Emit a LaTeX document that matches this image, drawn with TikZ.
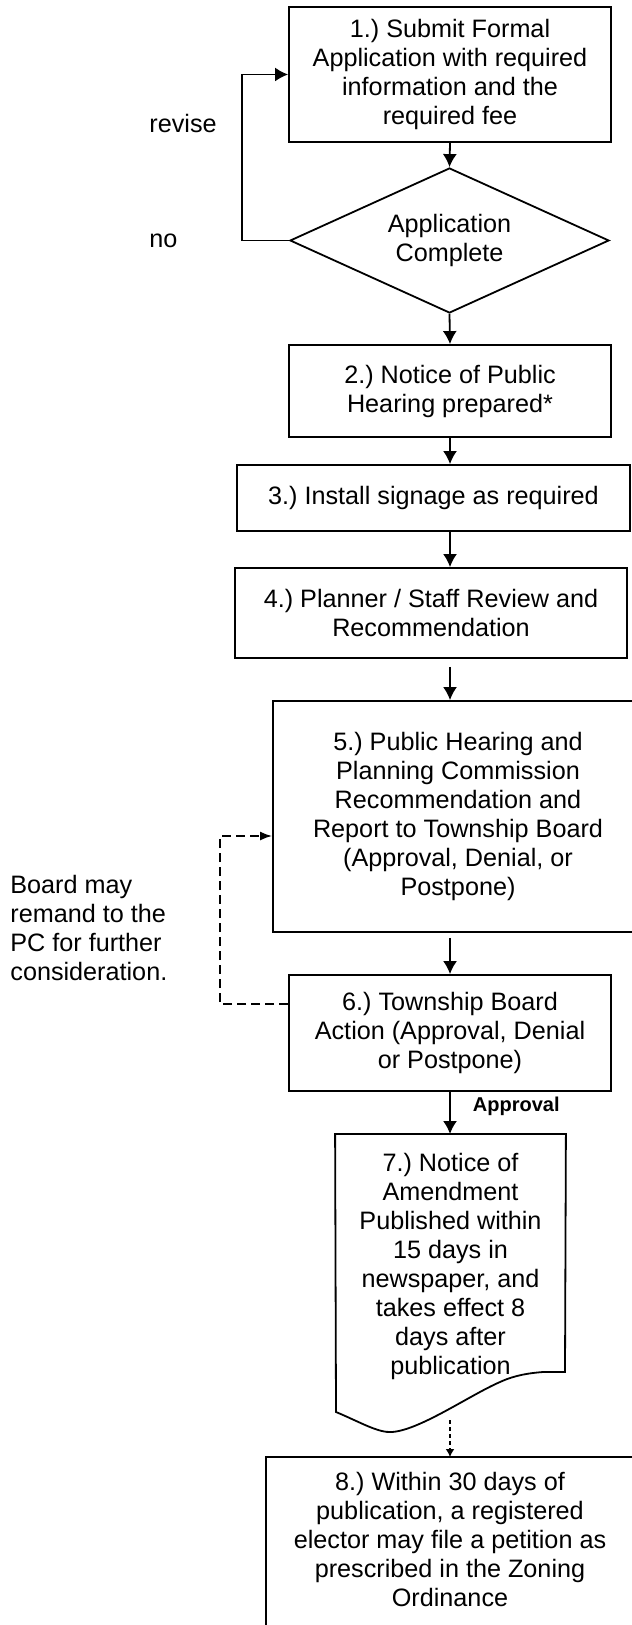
\documentclass[tikz,border=0pt]{standalone}
\usepackage{fontspec}
\setmainfont{Liberation Sans}
\usetikzlibrary{arrows.meta,shapes.geometric}
\newcommand{\boxfont}{\fontsize{12.6}{14.5}\selectfont}
\frenchspacing
\tikzset{
	box/.style={draw, line width=0.9pt, align=center, inner sep=0pt, font=\boxfont},
	decision/.style={box, diamond, aspect=2.2},
	note/.style={inner sep=0pt, font=\boxfont},
	flow/.style={line width=0.9pt, ->},
	remand/.style={line width=0.9pt, dash pattern=on 4.5pt off 2.5pt, -{Latex[length=6pt,width=4.5pt]}},
	publish/.style={line width=0.9pt, dash pattern=on 2pt off 1.5pt, -{Latex[length=4pt,width=4.5pt]}}
}

\begin{document}
\begin{tikzpicture}[x=0.5pt, y=-0.5pt, >={Latex[length=6.5pt,width=7pt]}]

	\useasboundingbox (0,0) rectangle (631,1625);

	\node [box, minimum width=161pt, minimum height=67.5pt] (submit) at (450,74.5) {1.) Submit Formal\\Application with required\\information and the\\required fee};
	\node [decision, minimum width=159.5pt, minimum height=72.5pt] (complete) at (449.5,240.5) {Application\\Complete};
	\node [box, minimum width=161pt, minimum height=46pt] (hearing) at (450,391) {2.) Notice of Public\\Hearing prepared*};
	\node [box, minimum width=196.5pt, minimum height=33pt] (signage) at (433.5,498) {3.) Install signage as required};
	\node [box, minimum width=196pt, minimum height=45pt] (review) at (431,613) {4.) Planner / Staff Review and\\Recommendation};
	\node [box, minimum width=185pt, minimum height=115.5pt] (pc) at (458,816.5) {5.) Public Hearing and\\Planning Commission\\Recommendation and\\Report to Township Board\\(Approval, Denial, or\\Postpone)};
	\node [box, minimum width=161pt, minimum height=58pt] (board) at (450,1033) {6.) Township Board\\Action (Approval, Denial\\or Postpone)};
	\node [box, draw=none, anchor=north, minimum width=114.5pt, inner ysep=9.3pt] (amend) at (450.5,1134) {7.) Notice of\\Amendment\\Published within\\15 days in\\newspaper, and\\takes effect 8\\days after\\publication};
	\node [box, draw=none, anchor=north, minimum width=183pt, inner ysep=7.3pt] (petition) at (450,1457) {8.) Within 30 days of\\publication, a registered\\elector may file a petition as\\prescribed in the Zoning\\Ordinance};

	\draw [line width=0.9pt] (amend.north west) -- (amend.north east) -- (565,1372) -- (543,1372) .. controls (530,1373) and (515,1375) .. (500,1382) .. controls (470,1395) and (420,1430) .. (392,1432) .. controls (378,1433) and (360,1422) .. (336,1412) -- cycle;
	\draw [line width=0.9pt] ([yshift=-20pt]petition.south west) -- (petition.north west) -- (petition.north east) -- ([yshift=-20pt]petition.south east);

	\node [note, anchor=base west] (revise) at (149,133) {revise};
	\node [note, anchor=base west] (no) at (149,248) {no};
	\node [note, anchor=north west, align=left] (remandtext) at (10,875) {Board may\\remand to the\\PC for further\\consideration.};

	\draw [flow] (submit.south) -- (complete.north);
	\draw [flow] (complete.south) -- (hearing.north);
	\draw [flow] (hearing.south) -- (signage.north -| hearing.south);
	\draw [flow] (signage.south -| hearing.south) -- (review.north -| hearing.south);
	\draw [flow, shorten <=4pt] (review.south -| hearing.south) -- (pc.north -| hearing.south);
	\draw [flow, shorten <=2.5pt] (pc.south -| board.south) -- (board.north);
	\draw [flow] (board.south) -- node [pos=0.35, right=11pt, inner sep=0pt, font=\fontsize{10}{12}\selectfont\bfseries] (approval) {Approval} (amend.north -| board.south);
	\draw [flow] (complete.west) -- ++(-47,0) |- (submit.west);
	\draw [remand] (board.west |- 0,1004) -- ++(-68,0) |- (pc.west |- 0,836);
	\coordinate (wave) at (450,1420);
	\draw [publish] (wave) -- (petition.north);

\end{tikzpicture}
\end{document}
